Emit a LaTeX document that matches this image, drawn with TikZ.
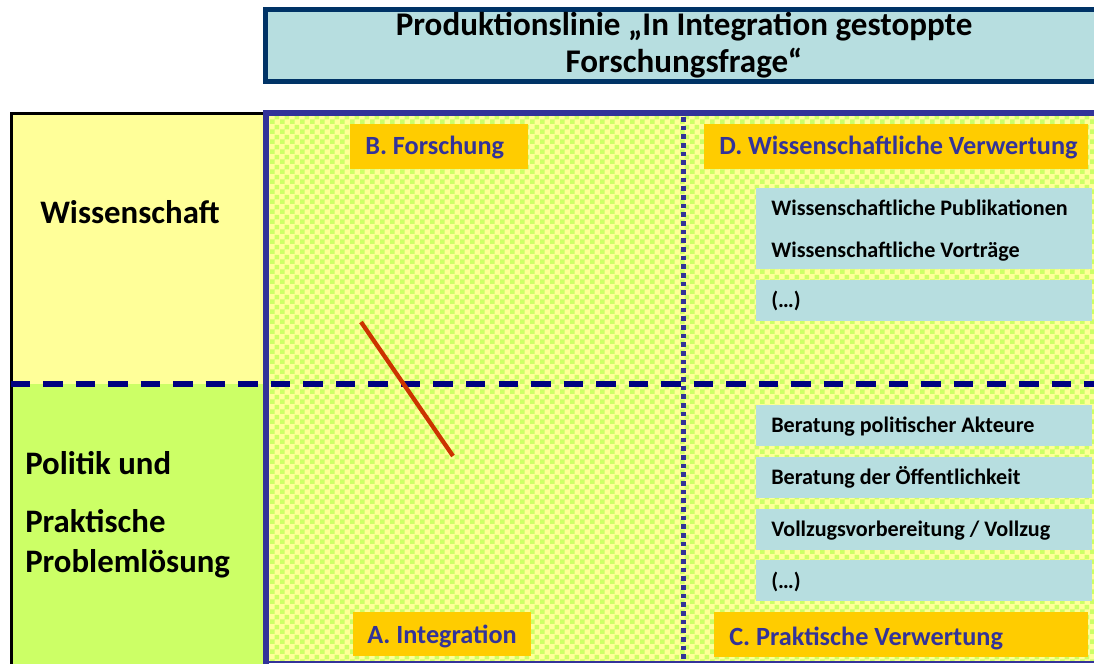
\documentclass[tikz,border=0pt]{standalone}
\usepackage{fontspec}
\setmainfont{Carlito}
\usetikzlibrary{patterns.meta}
\definecolor{titlefill}{HTML}{B7DEE0}
\definecolor{titleborder}{HTML}{003366}
\definecolor{chkyellow}{HTML}{FFFF99}
\definecolor{chkgreen}{HTML}{CCFF66}
\definecolor{gridblue}{HTML}{333399}
\definecolor{dashnavy}{HTML}{000080}
\definecolor{orangefill}{HTML}{FFCC00}
\definecolor{redline}{HTML}{CC3300}
\tikzdeclarepattern{
  name=chk,
  type=uncolored,
  bottom left={(0pt,0pt)},
  top right={(7.5pt,7.5pt)},
  tile size={(7.5pt,7.5pt)},
  code={
    \pgfpathrectangle{\pgfpointorigin}{\pgfpoint{3.75pt}{3.75pt}}
    \pgfpathrectangle{\pgfpoint{3.75pt}{3.75pt}}{\pgfpoint{3.75pt}{3.75pt}}
    \pgfusepath{fill}
  }
}
\begin{document}
\begin{tikzpicture}[x=0.75pt,y=-0.75pt,
  titletext/.style={font=\fontsize{24.8}{30}\selectfont\bfseries, anchor=base, inner sep=0pt},
  sidelabel/.style={font=\fontsize{24.6}{29}\selectfont\bfseries, anchor=base west, inner sep=0pt},
  orangebox/.style={fill=orangefill},
  orangetext/.style={font=\fontsize{19.7}{23}\selectfont\bfseries, text=gridblue, anchor=base west, inner sep=0pt},
  itembox/.style={fill=titlefill},
  itemtext/.style={font=\fontsize{16.6}{20}\selectfont\bfseries, anchor=base west, inner sep=0pt},
]
\useasboundingbox (0,0) rectangle (1094,663);
% title box
\path[fill=titlefill, draw=titleborder, line width=3.75pt] (265.5,10) rectangle (1120,82);
\node[titletext] (t1) at (684,36) {Produktionslinie „In Integration gestoppte};
\node[titletext] (t2) at (684,73) {Forschungsfrage“};
% left column
\fill[chkyellow] (11.5,113) rectangle (266,384);
\fill[chkgreen] (11.5,384) rectangle (266,665);
\draw[black, line width=2.25pt] (11.5,665) -- (11.5,113.3) -- (266,113.3);
% grid area
\fill[chkyellow] (266,113) rectangle (1100,662);
\fill[pattern=chk, pattern color=chkgreen] (266,113) rectangle (1100,662);
\draw[gridblue, line width=1pt] (266,662) -- (1100,662);
\draw[gridblue, line width=4.5pt] (266,665) -- (266,113) -- (1100,113);
% dividers
\draw[gridblue, line width=3.75pt, dash pattern=on 3.5pt off 3pt] (683.5,117) -- (683.5,663);
\draw[dashnavy, line width=4.8pt, dash pattern=on 14.6pt off 9.8pt] (10.5,384) -- (1100,384);
% side labels
\node[sidelabel] (wiss) at (40,223) {Wissenschaft};
\node[sidelabel] (pol1) at (25,474) {Politik und};
\node[sidelabel] (pol2) at (25,532) {Praktische};
\node[sidelabel] (pol3) at (25,572) {Problemlösung};
% orange headers
\path[orangebox] (350,124) rectangle (528,169);
\node[orangetext] (B) at (365,155) {B. Forschung};
\path[orangebox] (704,124) rectangle (1088,169);
\node[orangetext] (D) at (719,155) {D. Wissenschaftliche Verwertung};
\path[orangebox] (353,612) rectangle (531,656);
\node[orangetext] (A) at (367,643) {A. Integration};
\path[orangebox] (714,612) rectangle (1088,657);
\node[orangetext] (C) at (729,645) {C. Praktische Verwertung};
% item boxes upper
\path[itembox] (756,188) rectangle (1092,269);
\node[itemtext] (i1) at (771,215) {Wissenschaftliche Publikationen};
\node[itemtext] (i2) at (771,257) {Wissenschaftliche Vorträge};
\path[itembox] (756,280) rectangle (1092,320.5);
\node[itemtext] (i3) at (771,307) {(…)};
% item boxes lower
\path[itembox] (756,404.5) rectangle (1092,445.5);
\node[itemtext] (j1) at (771,432) {Beratung politischer Akteure};
\path[itembox] (756,456.5) rectangle (1092,497.5);
\node[itemtext] (j2) at (771,484) {Beratung der Öffentlichkeit};
\path[itembox] (756,508.5) rectangle (1092,549.5);
\node[itemtext] (j3) at (771,536) {Vollzugsvorbereitung / Vollzug};
\path[itembox] (756,560) rectangle (1092,601);
\node[itemtext] (j4) at (771,588) {(…)};
% red stroke
\coordinate (r1) at (361,322);
\coordinate (r2) at (453,456);
\draw[redline, line width=3.2pt] (r1) -- (r2);
\end{tikzpicture}
\end{document}
